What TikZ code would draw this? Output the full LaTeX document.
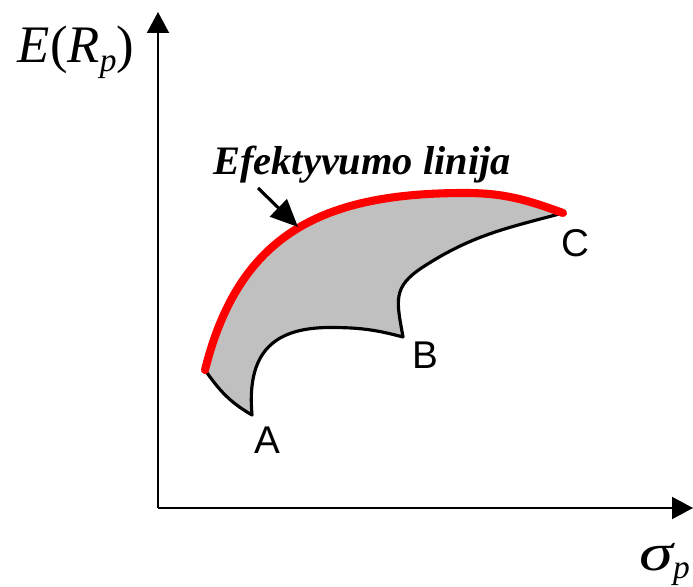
\documentclass[tikz,border=0pt]{standalone}
\usepackage{fontspec}
\usepackage{graphicx}
\setmainfont{Liberation Serif}
\newfontfamily\pointfont{Liberation Sans}
\usetikzlibrary{arrows.meta}
\definecolor{FrontRed}{RGB}{255,0,0}
\definecolor{RegionGray}{RGB}{192,192,192}
\newcommand{\lowsub}[1]{\raisebox{-5pt}{\fontsize{19}{19}\selectfont\itshape #1}}
\tikzset{
  axis/.style={line width=1.1pt,-{Triangle[length=4.2mm,width=4.4mm]}},
  region/.style={draw=black,line width=1.8pt,fill=RegionGray,line join=round},
  frontier/.style={draw=FrontRed,line width=4.6pt,line cap=round},
  pointer/.style={line width=1.8pt,-{Triangle[length=5.5mm,width=4.8mm]}},
  axislabel/.style={font=\fontsize{30}{30}\selectfont,inner sep=0pt},
  note/.style={font=\fontsize{23}{24}\selectfont\bfseries\itshape,inner sep=0pt},
  pointlabel/.style={font=\pointfont\fontsize{22}{22}\selectfont,inner sep=0pt}
}
\begin{document}
\begin{tikzpicture}[x=1cm,y=1cm]
  \useasboundingbox (0,0) rectangle (13.86,11.72);
  % axes
  \coordinate (origin) at (3.16,1.56);
  \coordinate (ytip) at (3.16,11.48);
  \coordinate (xtip) at (13.86,1.56);
  \draw[axis] (origin) -- (ytip);
  \draw[axis] (origin) -- (xtip);
  \node[axislabel,anchor=base] (ylab) at (1.52,10.46) {{\itshape E}({\itshape R}\lowsub{p})};
  \node[axislabel,anchor=base west] (xlab) at (12.78,0.32) {\scalebox{1.3}[1]{\itshape σ}\lowsub{p}};
  % corners of the set
  \coordinate (ptA) at (5.04,3.42);
  \coordinate (ptB) at (8.06,4.98);
  \coordinate (ptC) at (11.26,7.46);
  \coordinate (low) at (4.10,4.32);
  \coordinate (peak) at (9.30,7.86);
  % feasible set
  \draw[region] (ptC) to[out=195,in=33] (8.46,6.38) to[out=213,in=100,looseness=1.3] (ptB)
    to[out=165,in=0] (6.60,5.17) to[out=180,in=95,looseness=1.3] (ptA)
    to[out=150,in=-55] (low)
    to[out=76,in=180,looseness=1.15] (peak) to[out=0,in=160] (ptC) -- cycle;
  \draw[frontier] (low) to[out=76,in=180,looseness=1.15] (peak) to[out=0,in=160] (ptC);
  % labels
  \node[pointlabel] (labA) at (5.34,2.92) {A};
  \node[pointlabel] (labB) at (8.50,4.62) {B};
  \node[pointlabel] (labC) at (11.50,6.86) {C};
  \node[note] (efflab) at (7.24,8.42) {Efektyvumo linija};
  \coordinate (tail) at (5.16,7.96);
  \coordinate (head) at (5.96,7.18);
  \draw[pointer] (tail) -- (head);
\end{tikzpicture}
\end{document}
